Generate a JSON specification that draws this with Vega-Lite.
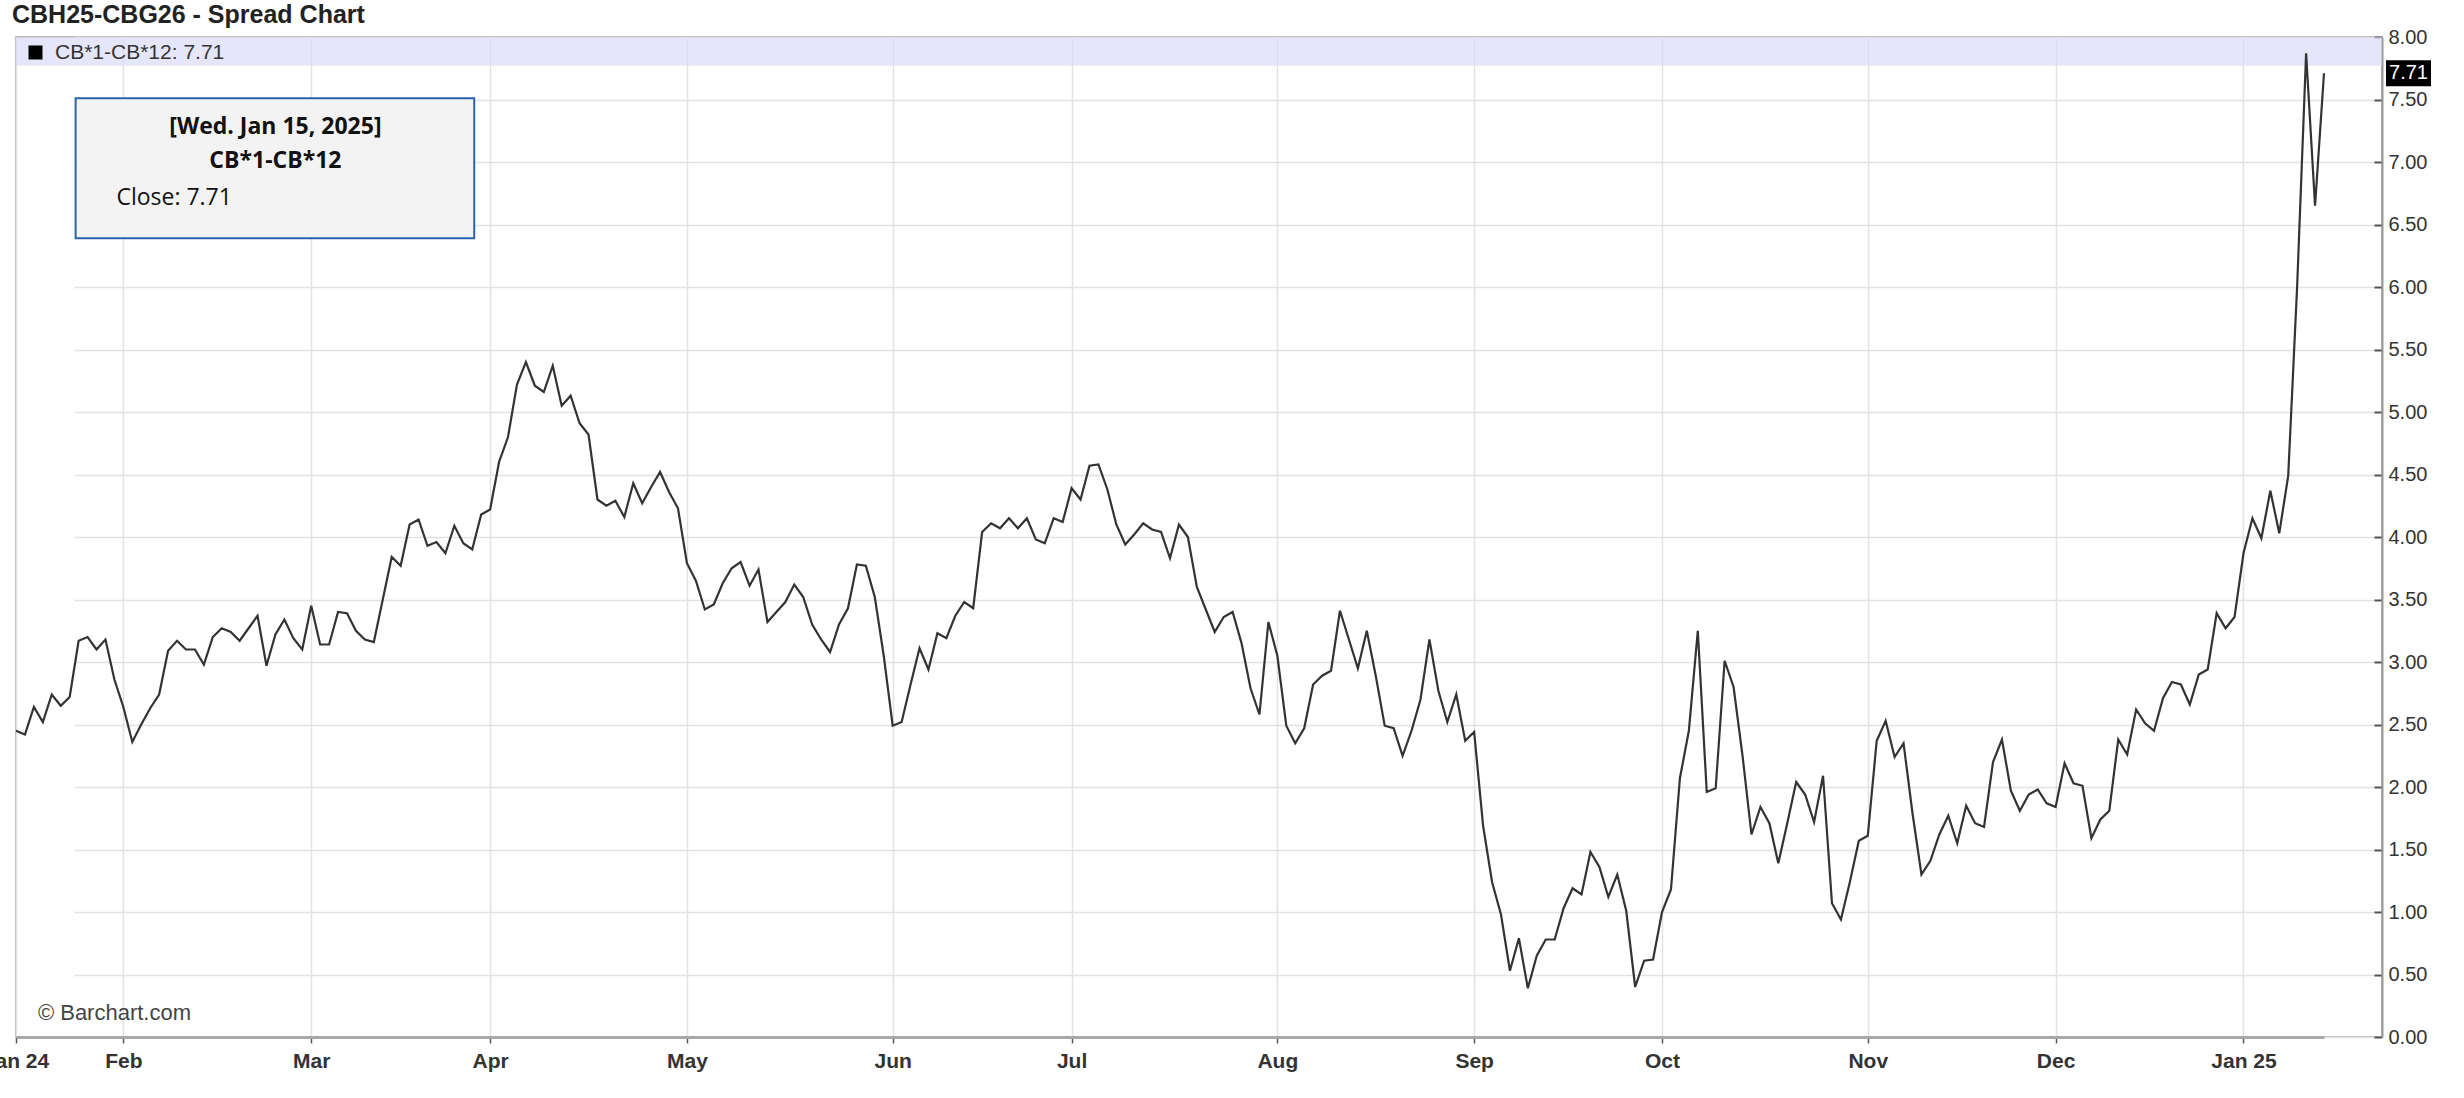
{
  "$schema": "https://vega.github.io/schema/vega-lite/v6.json",
  "width": 2366,
  "height": 1000,
  "autosize": {"type": "none"},
  "padding": {"left": 16, "top": 37, "right": 82, "bottom": 61},
  "background": "white",
  "title": {
    "text": "CBH25-CBG26 - Spread Chart",
    "anchor": "start",
    "frame": "group",
    "fontSize": 25,
    "fontWeight": "bold",
    "color": "#222222",
    "font": "Liberation Sans",
    "offset": 3,
    "dx": -4,
    "dy": 23.5,
    "baseline": "alphabetic"
  },
  "config": {
    "font": "Liberation Sans",
    "view": {"stroke": "#a3a3a3", "strokeWidth": 1.5}
  },
  "layer": [
    {
      "data": {"values": [{}]},
      "mark": {"type": "rect", "fill": "#d8d8f8", "fillOpacity": 0.65},
      "encoding": {
        "y": {"datum": 8.0, "type": "quantitative", "title": null},
        "y2": {"datum": 7.77}
      }
    },
    {
      "data": {"values": [
        {"date": "2024-01-16", "close": 2.45}, {"date": "2024-01-17", "close": 2.42}, {"date": "2024-01-18", "close": 2.64}, {"date": "2024-01-19", "close": 2.52},
        {"date": "2024-01-22", "close": 2.74}, {"date": "2024-01-23", "close": 2.65}, {"date": "2024-01-24", "close": 2.72}, {"date": "2024-01-25", "close": 3.17},
        {"date": "2024-01-26", "close": 3.20}, {"date": "2024-01-29", "close": 3.10}, {"date": "2024-01-30", "close": 3.18}, {"date": "2024-01-31", "close": 2.86},
        {"date": "2024-02-01", "close": 2.64}, {"date": "2024-02-02", "close": 2.36}, {"date": "2024-02-05", "close": 2.50}, {"date": "2024-02-06", "close": 2.63},
        {"date": "2024-02-07", "close": 2.74}, {"date": "2024-02-08", "close": 3.09}, {"date": "2024-02-09", "close": 3.17}, {"date": "2024-02-12", "close": 3.10},
        {"date": "2024-02-13", "close": 3.10}, {"date": "2024-02-14", "close": 2.98}, {"date": "2024-02-15", "close": 3.20}, {"date": "2024-02-16", "close": 3.27},
        {"date": "2024-02-19", "close": 3.24}, {"date": "2024-02-20", "close": 3.17}, {"date": "2024-02-21", "close": 3.27}, {"date": "2024-02-22", "close": 3.37},
        {"date": "2024-02-23", "close": 2.97}, {"date": "2024-02-26", "close": 3.22}, {"date": "2024-02-27", "close": 3.34}, {"date": "2024-02-28", "close": 3.19},
        {"date": "2024-02-29", "close": 3.10},
        {"date": "2024-03-01", "close": 3.45}, {"date": "2024-03-04", "close": 3.14}, {"date": "2024-03-05", "close": 3.14}, {"date": "2024-03-06", "close": 3.40},
        {"date": "2024-03-07", "close": 3.39}, {"date": "2024-03-08", "close": 3.25}, {"date": "2024-03-11", "close": 3.18}, {"date": "2024-03-12", "close": 3.16},
        {"date": "2024-03-13", "close": 3.50}, {"date": "2024-03-14", "close": 3.84}, {"date": "2024-03-15", "close": 3.77}, {"date": "2024-03-18", "close": 4.10},
        {"date": "2024-03-19", "close": 4.14}, {"date": "2024-03-20", "close": 3.93}, {"date": "2024-03-21", "close": 3.96}, {"date": "2024-03-22", "close": 3.87},
        {"date": "2024-03-25", "close": 4.09}, {"date": "2024-03-26", "close": 3.95}, {"date": "2024-03-27", "close": 3.90}, {"date": "2024-03-28", "close": 4.18},
        {"date": "2024-04-01", "close": 4.22}, {"date": "2024-04-02", "close": 4.60}, {"date": "2024-04-03", "close": 4.80}, {"date": "2024-04-04", "close": 5.22},
        {"date": "2024-04-05", "close": 5.40}, {"date": "2024-04-08", "close": 5.21}, {"date": "2024-04-09", "close": 5.16}, {"date": "2024-04-10", "close": 5.37},
        {"date": "2024-04-11", "close": 5.05}, {"date": "2024-04-12", "close": 5.13}, {"date": "2024-04-15", "close": 4.91}, {"date": "2024-04-16", "close": 4.82},
        {"date": "2024-04-17", "close": 4.30}, {"date": "2024-04-18", "close": 4.25}, {"date": "2024-04-19", "close": 4.29}, {"date": "2024-04-22", "close": 4.16},
        {"date": "2024-04-23", "close": 4.43}, {"date": "2024-04-24", "close": 4.27}, {"date": "2024-04-25", "close": 4.40}, {"date": "2024-04-26", "close": 4.52},
        {"date": "2024-04-29", "close": 4.36}, {"date": "2024-04-30", "close": 4.23},
        {"date": "2024-05-01", "close": 3.79}, {"date": "2024-05-02", "close": 3.65}, {"date": "2024-05-03", "close": 3.42}, {"date": "2024-05-06", "close": 3.46},
        {"date": "2024-05-07", "close": 3.63}, {"date": "2024-05-08", "close": 3.75}, {"date": "2024-05-09", "close": 3.80}, {"date": "2024-05-10", "close": 3.61},
        {"date": "2024-05-13", "close": 3.74}, {"date": "2024-05-14", "close": 3.32}, {"date": "2024-05-15", "close": 3.40}, {"date": "2024-05-16", "close": 3.48},
        {"date": "2024-05-17", "close": 3.62}, {"date": "2024-05-20", "close": 3.52}, {"date": "2024-05-21", "close": 3.30}, {"date": "2024-05-22", "close": 3.18},
        {"date": "2024-05-23", "close": 3.08}, {"date": "2024-05-24", "close": 3.30}, {"date": "2024-05-27", "close": 3.43}, {"date": "2024-05-28", "close": 3.78},
        {"date": "2024-05-29", "close": 3.77}, {"date": "2024-05-30", "close": 3.52}, {"date": "2024-05-31", "close": 3.05},
        {"date": "2024-06-03", "close": 2.49}, {"date": "2024-06-04", "close": 2.52}, {"date": "2024-06-05", "close": 2.82}, {"date": "2024-06-06", "close": 3.11},
        {"date": "2024-06-07", "close": 2.94}, {"date": "2024-06-10", "close": 3.23}, {"date": "2024-06-11", "close": 3.19}, {"date": "2024-06-12", "close": 3.37},
        {"date": "2024-06-13", "close": 3.48}, {"date": "2024-06-14", "close": 3.43}, {"date": "2024-06-17", "close": 4.04}, {"date": "2024-06-18", "close": 4.11},
        {"date": "2024-06-19", "close": 4.07}, {"date": "2024-06-20", "close": 4.15}, {"date": "2024-06-21", "close": 4.07}, {"date": "2024-06-24", "close": 4.15},
        {"date": "2024-06-25", "close": 3.98}, {"date": "2024-06-26", "close": 3.95}, {"date": "2024-06-27", "close": 4.15}, {"date": "2024-06-28", "close": 4.12},
        {"date": "2024-07-01", "close": 4.39}, {"date": "2024-07-02", "close": 4.30}, {"date": "2024-07-03", "close": 4.57}, {"date": "2024-07-04", "close": 4.58},
        {"date": "2024-07-05", "close": 4.38}, {"date": "2024-07-08", "close": 4.10}, {"date": "2024-07-09", "close": 3.94}, {"date": "2024-07-10", "close": 4.02},
        {"date": "2024-07-11", "close": 4.11}, {"date": "2024-07-12", "close": 4.06}, {"date": "2024-07-15", "close": 4.04}, {"date": "2024-07-16", "close": 3.83},
        {"date": "2024-07-17", "close": 4.10}, {"date": "2024-07-18", "close": 4.00}, {"date": "2024-07-19", "close": 3.60}, {"date": "2024-07-22", "close": 3.42},
        {"date": "2024-07-23", "close": 3.24}, {"date": "2024-07-24", "close": 3.36}, {"date": "2024-07-25", "close": 3.40}, {"date": "2024-07-26", "close": 3.15},
        {"date": "2024-07-29", "close": 2.79}, {"date": "2024-07-30", "close": 2.58}, {"date": "2024-07-31", "close": 3.32},
        {"date": "2024-08-01", "close": 3.05}, {"date": "2024-08-02", "close": 2.49}, {"date": "2024-08-05", "close": 2.35}, {"date": "2024-08-06", "close": 2.47},
        {"date": "2024-08-07", "close": 2.82}, {"date": "2024-08-08", "close": 2.89}, {"date": "2024-08-09", "close": 2.93}, {"date": "2024-08-12", "close": 3.41},
        {"date": "2024-08-13", "close": 3.18}, {"date": "2024-08-14", "close": 2.95}, {"date": "2024-08-15", "close": 3.25}, {"date": "2024-08-16", "close": 2.89},
        {"date": "2024-08-19", "close": 2.49}, {"date": "2024-08-20", "close": 2.47}, {"date": "2024-08-21", "close": 2.25}, {"date": "2024-08-22", "close": 2.45},
        {"date": "2024-08-23", "close": 2.70}, {"date": "2024-08-26", "close": 3.18}, {"date": "2024-08-27", "close": 2.77}, {"date": "2024-08-28", "close": 2.52},
        {"date": "2024-08-29", "close": 2.74}, {"date": "2024-08-30", "close": 2.37},
        {"date": "2024-09-02", "close": 2.44}, {"date": "2024-09-03", "close": 1.69}, {"date": "2024-09-04", "close": 1.24}, {"date": "2024-09-05", "close": 0.98},
        {"date": "2024-09-06", "close": 0.53}, {"date": "2024-09-09", "close": 0.79}, {"date": "2024-09-10", "close": 0.39}, {"date": "2024-09-11", "close": 0.65},
        {"date": "2024-09-12", "close": 0.78}, {"date": "2024-09-13", "close": 0.78}, {"date": "2024-09-16", "close": 1.03}, {"date": "2024-09-17", "close": 1.19},
        {"date": "2024-09-18", "close": 1.14}, {"date": "2024-09-19", "close": 1.48}, {"date": "2024-09-20", "close": 1.36}, {"date": "2024-09-23", "close": 1.12},
        {"date": "2024-09-24", "close": 1.30}, {"date": "2024-09-25", "close": 1.01}, {"date": "2024-09-26", "close": 0.40}, {"date": "2024-09-27", "close": 0.61},
        {"date": "2024-09-30", "close": 0.62},
        {"date": "2024-10-01", "close": 1.00}, {"date": "2024-10-02", "close": 1.18}, {"date": "2024-10-03", "close": 2.07}, {"date": "2024-10-04", "close": 2.45},
        {"date": "2024-10-07", "close": 3.25}, {"date": "2024-10-08", "close": 1.96}, {"date": "2024-10-09", "close": 1.99}, {"date": "2024-10-10", "close": 3.01},
        {"date": "2024-10-11", "close": 2.80}, {"date": "2024-10-14", "close": 2.25}, {"date": "2024-10-15", "close": 1.62}, {"date": "2024-10-16", "close": 1.84},
        {"date": "2024-10-17", "close": 1.71}, {"date": "2024-10-18", "close": 1.39}, {"date": "2024-10-21", "close": 1.71}, {"date": "2024-10-22", "close": 2.04},
        {"date": "2024-10-23", "close": 1.94}, {"date": "2024-10-24", "close": 1.72}, {"date": "2024-10-25", "close": 2.09}, {"date": "2024-10-28", "close": 1.07},
        {"date": "2024-10-29", "close": 0.94}, {"date": "2024-10-30", "close": 1.24}, {"date": "2024-10-31", "close": 1.57},
        {"date": "2024-11-01", "close": 1.61}, {"date": "2024-11-04", "close": 2.37}, {"date": "2024-11-05", "close": 2.53}, {"date": "2024-11-06", "close": 2.24},
        {"date": "2024-11-07", "close": 2.35}, {"date": "2024-11-08", "close": 1.79}, {"date": "2024-11-11", "close": 1.30}, {"date": "2024-11-12", "close": 1.41},
        {"date": "2024-11-13", "close": 1.62}, {"date": "2024-11-14", "close": 1.77}, {"date": "2024-11-15", "close": 1.55}, {"date": "2024-11-18", "close": 1.85},
        {"date": "2024-11-19", "close": 1.71}, {"date": "2024-11-20", "close": 1.68}, {"date": "2024-11-21", "close": 2.20}, {"date": "2024-11-22", "close": 2.38},
        {"date": "2024-11-25", "close": 1.97}, {"date": "2024-11-26", "close": 1.81}, {"date": "2024-11-27", "close": 1.94}, {"date": "2024-11-28", "close": 1.98},
        {"date": "2024-11-29", "close": 1.87},
        {"date": "2024-12-02", "close": 1.84}, {"date": "2024-12-03", "close": 2.19}, {"date": "2024-12-04", "close": 2.03}, {"date": "2024-12-05", "close": 2.01},
        {"date": "2024-12-06", "close": 1.59}, {"date": "2024-12-09", "close": 1.74}, {"date": "2024-12-10", "close": 1.81}, {"date": "2024-12-11", "close": 2.38},
        {"date": "2024-12-12", "close": 2.26}, {"date": "2024-12-13", "close": 2.62}, {"date": "2024-12-16", "close": 2.51}, {"date": "2024-12-17", "close": 2.45},
        {"date": "2024-12-18", "close": 2.71}, {"date": "2024-12-19", "close": 2.84}, {"date": "2024-12-20", "close": 2.82}, {"date": "2024-12-23", "close": 2.66},
        {"date": "2024-12-24", "close": 2.90}, {"date": "2024-12-26", "close": 2.94}, {"date": "2024-12-27", "close": 3.39}, {"date": "2024-12-30", "close": 3.27},
        {"date": "2024-12-31", "close": 3.36},
        {"date": "2025-01-02", "close": 3.87}, {"date": "2025-01-03", "close": 4.15}, {"date": "2025-01-06", "close": 3.99}, {"date": "2025-01-07", "close": 4.37},
        {"date": "2025-01-08", "close": 4.03}, {"date": "2025-01-09", "close": 4.49}, {"date": "2025-01-10", "close": 6.01}, {"date": "2025-01-13", "close": 7.87},
        {"date": "2025-01-14", "close": 6.65}, {"date": "2025-01-15", "close": 7.71}
      ]},
      "mark": {"type": "line", "strokeWidth": 2.2, "interpolate": "linear"},
      "encoding": {
        "x": {
          "field": "date",
          "type": "ordinal",
          "scale": {"type": "point", "padding": 0, "range": [0, 2308]},
          "axis": {
            "title": null,
            "values": ["2024-01-16", "2024-02-01", "2024-03-01", "2024-04-01", "2024-05-01", "2024-06-03", "2024-07-01", "2024-08-01", "2024-09-02", "2024-10-01", "2024-11-01", "2024-12-02", "2025-01-02"],
            "labelExpr": "utcFormat(toDate(datum.value), utcFormat(toDate(datum.value), '%m') == '01' ? '%b %y' : '%b')",
            "labelAngle": 0,
            "labelAlign": "center",
            "labelBaseline": "top",
            "labelFont": "Liberation Sans",
            "labelFontSize": 21,
            "labelFontWeight": "bold",
            "labelColor": "#333333",
            "labelPadding": 7,
            "labelOverlap": false,
            "tickSize": 6,
            "tickColor": "#555555",
            "tickWidth": 1.5,
            "domainColor": "#a8a8a8",
            "domainWidth": 3,
            "grid": true,
            "gridColor": "#e2e2e2",
            "gridWidth": 1.5
          }
        },
        "y": {
          "field": "close",
          "type": "quantitative",
          "scale": {"domain": [0, 8], "nice": false, "zero": true},
          "axis": {
            "orient": "right",
            "title": null,
            "values": [0, 0.5, 1, 1.5, 2, 2.5, 3, 3.5, 4, 4.5, 5, 5.5, 6, 6.5, 7, 7.5, 8],
            "format": ".2f",
            "labelFont": "Liberation Sans",
            "labelFontSize": 20,
            "labelColor": "#333333",
            "labelPadding": 14,
            "labelOverlap": false,
            "tickSize": -8,
            "tickColor": "#555555",
            "tickWidth": 2,
            "domainColor": "#999999",
            "domainWidth": 2,
            "grid": true,
            "gridColor": "#e2e2e2",
            "gridWidth": 1.5
          }
        },
        "color": {
          "datum": "CB*1-CB*12",
          "scale": {"range": ["#333333"]},
          "legend": {
            "orient": "none",
            "legendX": 9,
            "legendY": 5,
            "title": null,
            "padding": 0,
            "symbolType": "square",
            "symbolSize": 196,
            "symbolFillColor": "#000000",
            "symbolStrokeColor": "#000000",
            "symbolStrokeWidth": 0,
            "labelFont": "Liberation Sans",
            "labelFontSize": 21,
            "labelColor": "#333333",
            "labelOffset": 9,
            "labelLimit": 600,
            "labelExpr": "datum.label + ': 7.71'"
          }
        }
      }
    },
    {
      "data": {"values": [{}]},
      "mark": {"type": "rect", "fill": "#f3f3f3", "stroke": "#2f62ad", "strokeWidth": 2, "xOffset": -3, "x2Offset": 2},
      "encoding": {
        "x": {"datum": "2024-01-25", "type": "ordinal", "title": null},
        "x2": {"datum": "2024-03-27"},
        "y": {"datum": 7.51, "type": "quantitative", "title": null},
        "y2": {"datum": 6.39}
      }
    },
    {
      "data": {"values": [{}]},
      "mark": {"type": "text", "font": "Open Sans", "fontSize": 23, "fontWeight": "bold", "color": "#111111", "align": "center", "baseline": "middle"},
      "encoding": {
        "x": {"datum": "2024-02-26", "type": "ordinal", "title": null},
        "y": {"datum": 7.28, "type": "quantitative", "title": null},
        "text": {"value": "[Wed. Jan 15, 2025]"}
      }
    },
    {
      "data": {"values": [{}]},
      "mark": {"type": "text", "font": "Open Sans", "fontSize": 23, "fontWeight": "bold", "color": "#111111", "align": "center", "baseline": "middle"},
      "encoding": {
        "x": {"datum": "2024-02-26", "type": "ordinal", "title": null},
        "y": {"datum": 7.01, "type": "quantitative", "title": null},
        "text": {"value": "CB*1-CB*12"}
      }
    },
    {
      "data": {"values": [{}]},
      "mark": {"type": "text", "font": "Open Sans", "fontSize": 23, "color": "#111111", "align": "left", "baseline": "middle", "dx": 2},
      "encoding": {
        "x": {"datum": "2024-01-31", "type": "ordinal", "title": null},
        "y": {"datum": 6.71, "type": "quantitative", "title": null},
        "text": {"value": "Close: 7.71"}
      }
    },
    {
      "data": {"values": [{}]},
      "mark": {"type": "text", "font": "Liberation Sans", "fontSize": 22, "color": "#444444", "align": "left", "baseline": "middle", "dx": 4},
      "encoding": {
        "x": {"datum": "2024-01-18", "type": "ordinal", "title": null},
        "y": {"datum": 0.19, "type": "quantitative", "title": null},
        "text": {"value": "© Barchart.com"}
      }
    },
    {
      "data": {"values": [{}]},
      "mark": {"type": "rect", "fill": "#000000", "xOffset": 62, "x2Offset": 107},
      "encoding": {
        "x": {"datum": "2025-01-15", "type": "ordinal", "title": null},
        "x2": {"datum": "2025-01-15"},
        "y": {"datum": 7.814, "type": "quantitative", "title": null},
        "y2": {"datum": 7.606}
      }
    },
    {
      "data": {"values": [{}]},
      "mark": {"type": "text", "font": "Liberation Sans", "fontSize": 20, "color": "#ffffff", "align": "center", "baseline": "middle", "dx": 84.5},
      "encoding": {
        "x": {"datum": "2025-01-15", "type": "ordinal", "title": null},
        "y": {"datum": 7.71, "type": "quantitative", "title": null},
        "text": {"value": "7.71"}
      }
    }
  ]
}
